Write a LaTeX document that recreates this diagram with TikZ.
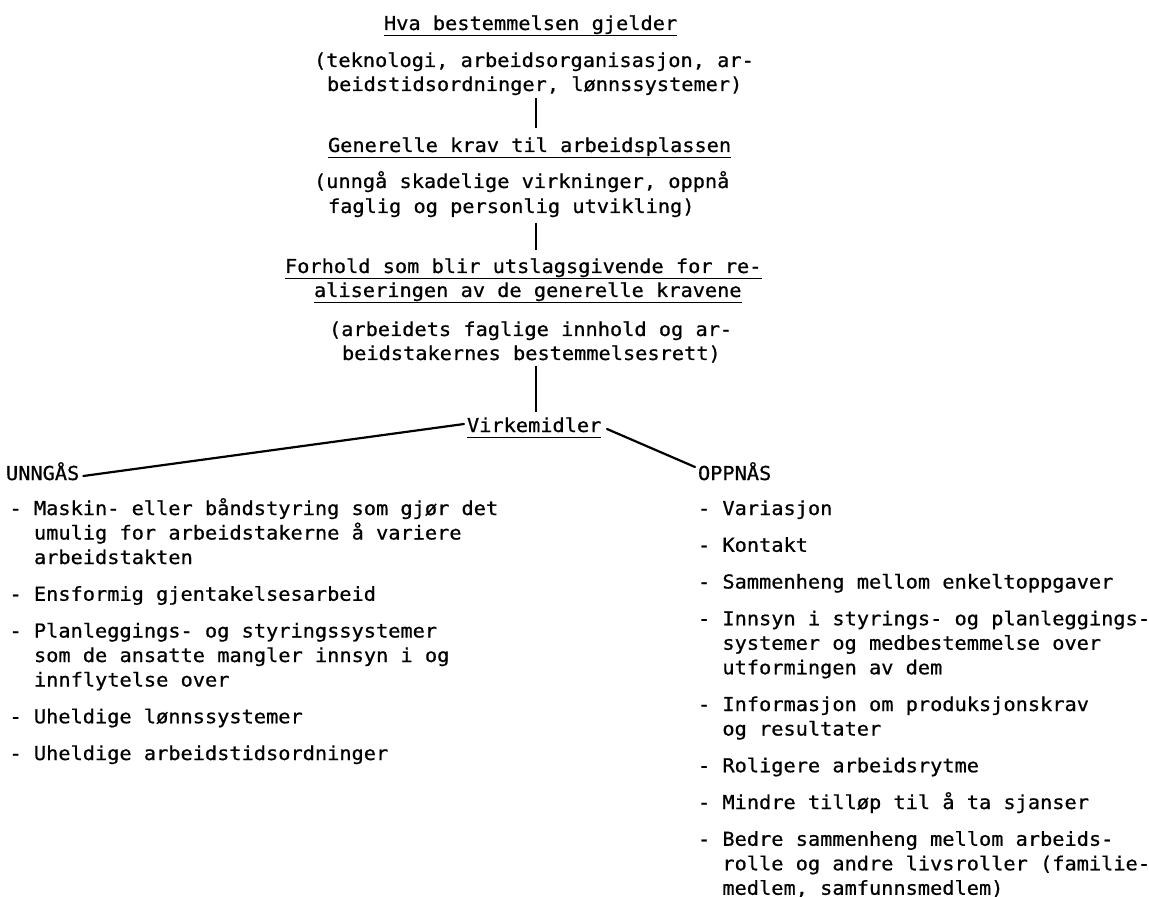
\documentclass[tikz,border=0pt]{standalone}
\usepackage{fontspec}
\newfontfamily\tw[FakeStretch=1.057,FakeBold=0.7]{DejaVu Sans Mono}
\frenchspacing
\begin{document}
\begin{tikzpicture}[x=0.5pt,y=-0.5pt,
  tl/.style={anchor=base west, inner sep=0pt, outer sep=0pt, font=\tw\fontsize{9.6pt}{12.25pt}\selectfont},
  ul/.style={line width=0.8pt},
  conn/.style={line width=1pt},
  diag/.style={line width=1.1pt, line cap=round}]
\useasboundingbox (0,0) rectangle (1149,897);
\fill[white] (0,0) rectangle (1149,897);
\coordinate (vx) at (536,0);
% central column
\node[tl] (h1) at (384,30) {Hva bestemmelsen gjelder};
\node[tl] (p1a) at (314,67) {(teknologi, arbeidsorganisasjon, ar-};
\node[tl] (p1b) at (327,91) {beidstidsordninger, lønnssystemer)};
\node[tl] (h2) at (328,152) {Generelle krav til arbeidsplassen};
\node[tl] (p2a) at (314,188) {(unngå skadelige virkninger, oppnå};
\node[tl] (p2b) at (328,213) {faglig og personlig utvikling)};
\node[tl] (h3a) at (285,273) {Forhold som blir utslagsgivende for re-};
\node[tl] (h3b) at (314,297) {aliseringen av de generelle kravene};
\node[tl] (p3a) at (329,336) {(arbeidets faglige innhold og ar-};
\node[tl] (p3b) at (342,360) {beidstakernes bestemmelsesrett)};
\node[tl] (virk) at (467,432) {Virkemidler};
% underlines
\foreach \n in {h1,h2,h3a,h3b,virk}
  \draw[ul] ([yshift=-2.75pt]\n.base west) -- ([yshift=-2.75pt]\n.base east);
% vertical connectors
\draw[conn] ([yshift=-3.5pt]p1b.base -| vx) -- ([yshift=12pt]h2.base -| vx);
\draw[conn] ([yshift=-5pt]p2b.base -| vx) -- ([yshift=11.5pt]h3a.base -| vx);
\draw[conn] ([yshift=-3pt]p3b.base -| vx) -- ([yshift=10pt]virk.base -| vx);
% left column
\node[tl] (unn) at (6,480) {UNNGÅS};
\node[tl] (l1a) at (9.5,515) {- Maskin- eller båndstyring som gjør det};
\node[tl] (l1b) at (34,539.5) {umulig for arbeidstakerne å variere};
\node[tl] (l1c) at (34,564) {arbeidstakten};
\node[tl] (l2) at (9.5,600.75) {- Ensformig gjentakelsesarbeid};
\node[tl] (l3a) at (9.5,637.5) {- Planleggings- og styringssystemer};
\node[tl] (l3b) at (34,662) {som de ansatte mangler innsyn i og};
\node[tl] (l3c) at (34,686.5) {innflytelse over};
\node[tl] (l4) at (9.5,723.25) {- Uheldige lønnssystemer};
\node[tl] (l5) at (9.5,760) {- Uheldige arbeidstidsordninger};
% right column
\node[tl] (opp) at (698,480) {OPPNÅS};
\node[tl] (r1) at (698,515) {- Variasjon};
\node[tl] (r2) at (698,551.75) {- Kontakt};
\node[tl] (r3) at (698,588.5) {- Sammenheng mellom enkeltoppgaver};
\node[tl] (r4a) at (698,625.25) {- Innsyn i styrings- og planleggings-};
\node[tl] (r4b) at (722.4,649.75) {systemer og medbestemmelse over};
\node[tl] (r4c) at (722.4,674.25) {utformingen av dem};
\node[tl] (r5a) at (698,711) {- Informasjon om produksjonskrav};
\node[tl] (r5b) at (722.4,735.5) {og resultater};
\node[tl] (r6) at (698,772.25) {- Roligere arbeidsrytme};
\node[tl] (r7) at (698,809) {- Mindre tilløp til å ta sjanser};
\node[tl] (r8a) at (698,845.75) {- Bedre sammenheng mellom arbeids-};
\node[tl] (r8b) at (722.4,870.25) {rolle og andre livsroller (familie-};
\node[tl] (r8c) at (722.4,894.75) {medlem, samfunnsmedlem)};
% diagonal connectors
\draw[diag] ([shift={(4,-4)}]unn.base east) -- ([shift={(-3,-8)}]virk.base west);
\draw[diag] ([shift={(5.6,-3)}]virk.base east) -- ([shift={(-3,-13)}]opp.base west);
\end{tikzpicture}
\end{document}
